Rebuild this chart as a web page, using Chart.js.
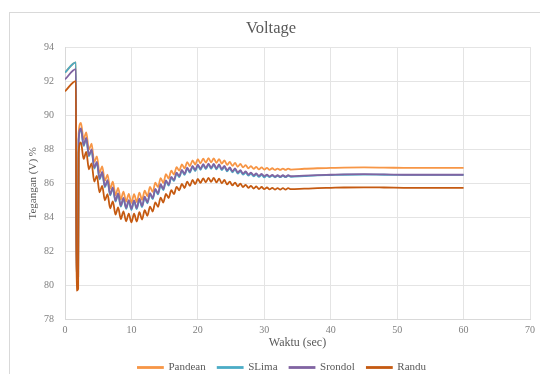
<!DOCTYPE html>
<html>
<head>
<meta charset="utf-8">
<script src="https://cdn.jsdelivr.net/npm/chart.js@4/dist/chart.umd.min.js"></script>
<style>
  html, body { margin: 0; padding: 0; background: #fff; overflow: hidden; width: 540px; height: 374px; }
  #frame { position: absolute; left: 9px; top: 12px; width: 560px; height: 420px; border: 1px solid #D9D9D9; box-sizing: border-box; }
  #c { position: absolute; left: 0; top: 0; }
</style>
</head>
<body>
<div id="frame"></div>
<canvas id="c" width="540" height="383"></canvas>
<script>
// Time (sec)
const time = [0, 1.65, 1.72, 1.98, 2.05,
  2.4, 2.8, 3.2, 3.6, 4.0, 4.4, 4.8, 5.2, 5.6, 6.0, 6.4, 6.8, 7.2, 7.6, 8.0, 8.4, 8.8, 9.2, 9.6, 10.0,
  10.4, 10.8, 11.2, 11.6, 12.0, 12.4, 12.8, 13.2, 13.6, 14.0, 14.4, 14.8, 15.2, 15.6, 16.0, 16.4, 16.8, 17.2, 17.6, 18.0,
  18.4, 18.8, 19.2, 19.6, 20.0, 20.4, 20.8, 21.2, 21.6, 22.0, 22.4, 22.8, 23.2, 23.6, 24.0, 24.4, 24.8, 25.2, 25.6, 26.0,
  26.4, 26.8, 27.2, 27.6, 28.0, 28.4, 28.8, 29.2, 29.6, 30.0, 30.4, 30.8, 31.2, 31.6, 32.0, 32.4, 32.8, 33.2, 33.6, 34.0,
  36, 38, 40, 42, 45, 48, 52, 56, 60];

const pandean = [92.5, 93.1, 80.4, 80.5, 88.9,
  89.55, 88.58, 88.99, 87.97, 88.32, 87.25, 87.58, 86.62, 86.99, 86.15, 86.51, 85.68, 86.09, 85.31, 85.73, 85.05, 85.50, 84.92, 85.37, 84.85,
  85.36, 84.90, 85.45, 85.02, 85.57, 85.24, 85.78, 85.49, 86.03, 85.77, 86.30, 86.02, 86.53, 86.28, 86.74, 86.51, 86.94, 86.74, 87.11, 86.87,
  87.24, 87.00, 87.34, 87.10, 87.41, 87.17, 87.44, 87.21, 87.47, 87.23, 87.46, 87.20, 87.42, 87.15, 87.34, 87.08, 87.25, 87.02, 87.19, 86.97,
  87.13, 86.93, 87.06, 86.88, 87.00, 86.84, 86.96, 86.81, 86.93, 86.80, 86.90, 86.79, 86.88, 86.78, 86.86, 86.78, 86.86, 86.78, 86.86, 86.80,
  86.85, 86.88, 86.90, 86.92, 86.93, 86.92, 86.90, 86.90, 86.90];

const slima = [92.5, 93.1, 80.4, 80.5, 88.5,
  89.16, 88.19, 88.60, 87.58, 87.93, 86.86, 87.19, 86.23, 86.60, 85.76, 86.12, 85.29, 85.70, 84.92, 85.34, 84.63, 85.08, 84.50, 84.95, 84.43,
  84.94, 84.48, 85.03, 84.60, 85.15, 84.82, 85.36, 85.07, 85.61, 85.35, 85.88, 85.60, 86.11, 85.86, 86.32, 86.13, 86.56, 86.36, 86.73, 86.49,
  86.86, 86.62, 86.96, 86.72, 87.03, 86.79, 87.06, 86.83, 87.09, 86.85, 87.08, 86.82, 87.04, 86.77, 86.96, 86.70, 86.87, 86.64, 86.81, 86.57,
  86.71, 86.51, 86.63, 86.45, 86.56, 86.40, 86.52, 86.37, 86.49, 86.35, 86.46, 86.36, 86.45, 86.35, 86.44, 86.36, 86.44, 86.36, 86.44, 86.38,
  86.42, 86.46, 86.48, 86.50, 86.51, 86.50, 86.49, 86.49, 86.49];

const srondol = [92.1, 92.7, 80.4, 80.5, 88.55,
  89.22, 88.25, 88.66, 87.64, 87.99, 86.92, 87.25, 86.29, 86.66, 85.82, 86.18, 85.35, 85.76, 84.98, 85.40, 84.69, 85.14, 84.56, 85.01, 84.49,
  85.00, 84.54, 85.09, 84.66, 85.21, 84.88, 85.42, 85.13, 85.67, 85.41, 85.94, 85.66, 86.17, 85.92, 86.38, 86.19, 86.62, 86.42, 86.79, 86.55,
  86.92, 86.68, 87.02, 86.78, 87.09, 86.85, 87.12, 86.89, 87.15, 86.91, 87.14, 86.88, 87.10, 86.83, 87.02, 86.76, 86.93, 86.70, 86.87, 86.63,
  86.77, 86.57, 86.69, 86.51, 86.62, 86.46, 86.58, 86.43, 86.55, 86.41, 86.51, 86.40, 86.49, 86.39, 86.47, 86.39, 86.47, 86.39, 86.47, 86.41,
  86.45, 86.48, 86.50, 86.52, 86.53, 86.52, 86.50, 86.50, 86.50];

const randu = [91.4, 92.0, 79.7, 79.8, 87.8,
  88.40, 87.43, 87.84, 86.82, 87.17, 86.10, 86.43, 85.47, 85.84, 85.00, 85.36, 84.53, 84.94, 84.16, 84.58, 83.90, 84.35, 83.77, 84.22, 83.70,
  84.21, 83.75, 84.30, 83.87, 84.42, 84.09, 84.63, 84.34, 84.88, 84.62, 85.15, 84.87, 85.38, 85.13, 85.59, 85.36, 85.79, 85.59, 85.96, 85.72,
  86.09, 85.85, 86.19, 85.95, 86.26, 86.02, 86.29, 86.06, 86.32, 86.08, 86.31, 86.05, 86.27, 86.00, 86.19, 85.93, 86.10, 85.87, 86.04, 85.82,
  85.98, 85.78, 85.91, 85.73, 85.85, 85.69, 85.81, 85.66, 85.78, 85.65, 85.75, 85.64, 85.73, 85.63, 85.71, 85.63, 85.71, 85.63, 85.71, 85.65,
  85.68, 85.71, 85.73, 85.75, 85.76, 85.75, 85.73, 85.73, 85.73];

const seriesNames = ['Pandean', 'SLima', 'Srondol', 'Randu'];
const seriesColors = ['#F79646', '#4BACC6', '#8064A2', '#C55A11'];
const seriesValues = [pandean, slima, srondol, randu];
const drawOrder = [4, 3, 2, 1];

const FONT = "'Liberation Serif', 'Times New Roman', serif";

const datasets = seriesNames.map((name, i) => ({
  label: name,
  data: time.map((t, k) => ({ x: t, y: seriesValues[i][k] })),
  borderColor: seriesColors[i],
  backgroundColor: seriesColors[i],
  borderWidth: 1.8,
  pointRadius: 0,
  cubicInterpolationMode: 'monotone',
  order: drawOrder[i]
}));

// nudge the legend a little to the right, as in the original layout
const legendShift = {
  id: 'legendShift',
  afterLayout(chart) {
    if (chart.legend) { chart.legend.left += 11; chart.legend.right += 11; }
  }
};

new Chart(document.getElementById('c'), {
  type: 'line',
  data: { datasets },
  plugins: [legendShift],
  options: {
    responsive: false,
    animation: false,
    layout: { padding: { left: 10, right: 8, top: 12, bottom: 0 } },
    plugins: {
      title: {
        display: true,
        text: 'Voltage',
        color: '#595959',
        font: { family: FONT, size: 16.5, weight: 'normal' },
        padding: { top: 7, bottom: 8.2 }
      },
      legend: {
        position: 'bottom',
        labels: {
          boxWidth: 25,
          boxHeight: 1,
          padding: 12,
          color: '#595959',
          font: { family: FONT, size: 11 },
          sort: (a, b) => a.datasetIndex - b.datasetIndex
        }
      },
      tooltip: { enabled: false }
    },
    scales: {
      x: {
        type: 'linear',
        min: 0, max: 70,
        ticks: { stepSize: 10, color: '#7F7F7F', padding: 5, font: { family: FONT, size: 10 } },
        grid: { color: '#E4E4E4', drawTicks: false },
        border: { color: '#D9D9D9' },
        title: { display: true, text: 'Waktu (sec)', color: '#595959', font: { family: FONT, size: 12 }, padding: { top: 0, bottom: 0 } },
        afterFit: (s) => { s.height = 30.5; }
      },
      y: {
        min: 78, max: 94,
        ticks: { stepSize: 2, color: '#7F7F7F', padding: 11, font: { family: FONT, size: 10 } },
        grid: { color: '#E4E4E4', drawTicks: false },
        border: { color: '#D9D9D9' },
        title: { display: true, text: 'Tegangan (V) %', color: '#595959', font: { family: FONT, size: 11 }, padding: { top: 16.4, bottom: 0 } },
        afterFit: (s) => { s.width = 55; }
      }
    }
  }
});
</script>
</body>
</html>
